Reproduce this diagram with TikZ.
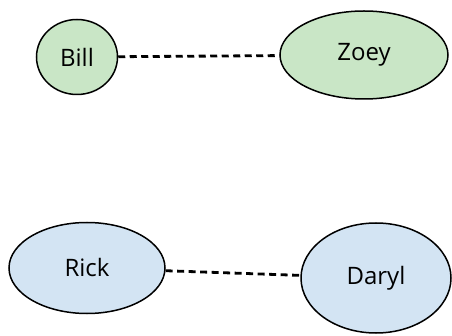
\documentclass[tikz,border=0pt]{standalone}
\usepackage{fontspec}
\setmainfont{Open Sans}
\usetikzlibrary{positioning,shapes.geometric}
\definecolor{leaf}{HTML}{C9E6C6}
\definecolor{sky}{HTML}{D3E4F3}

\begin{document}
\begin{tikzpicture}[x=1pt,y=-1pt,
    person/.style={ellipse,draw,line width=1.5pt,inner sep=0pt,font=\fontsize{24}{28}\selectfont},
    green/.style={person,fill=leaf},
    blue/.style={person,fill=sky},
    link/.style={line width=2.8pt,dash pattern=on 7pt off 4.5pt}
  ]
    \useasboundingbox (0,0) rectangle (452,336);

    \node[green,minimum width=81pt,minimum height=75pt] (bill) at (77,57) {Bill};
    \node[green,minimum width=168pt,minimum height=88pt] (zoey) at (364,55) {Zoey};
    \node[blue,minimum width=156pt,minimum height=91pt] (rick) at (87,268) {Rick};
    \node[blue,minimum width=150pt,minimum height=110pt] (daryl) at (376,278) {Daryl};

    \draw[link] (bill) -- (zoey);
    \draw[link] (rick) -- (daryl);
  \end{tikzpicture}
\end{document}
